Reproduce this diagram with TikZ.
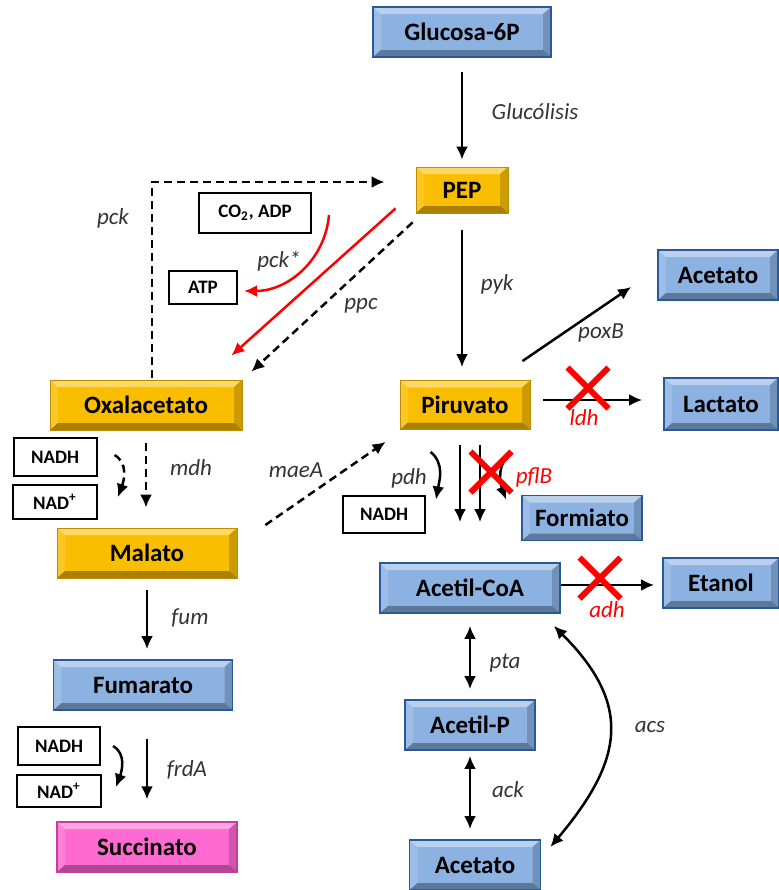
\documentclass[tikz,border=0pt]{standalone}
\usepackage{fontspec}
\setmainfont{Carlito}
\usetikzlibrary{arrows.meta,shapes.misc}
\definecolor{boxblue}{RGB}{140,178,226}
\definecolor{edgeblue}{RGB}{40,90,155}
\definecolor{boxgold}{RGB}{250,190,0}
\definecolor{edgegold}{RGB}{190,140,0}
\definecolor{boxpink}{RGB}{255,105,210}
\definecolor{edgepink}{RGB}{200,60,160}
\definecolor{knock}{RGB}{255,0,0}

\begin{document}
\begin{tikzpicture}[
		x=0.5pt, y=-0.5pt,
		bevel/.style={path picture={
				\coordinate (nw) at (path picture bounding box.north west);
				\coordinate (ne) at (path picture bounding box.north east);
				\coordinate (sw) at (path picture bounding box.south west);
				\coordinate (se) at (path picture bounding box.south east);
				\fill[white,opacity=.4] (nw) -- (ne) -- ([shift={(-4pt,-3.5pt)}]ne) -- ([shift={(4pt,-3.5pt)}]nw) -- cycle;
				\fill[white,opacity=.15] (nw) -- ([shift={(4pt,-3.5pt)}]nw) -- ([shift={(4pt,3.5pt)}]sw) -- (sw) -- cycle;
				\fill[black,opacity=.18] (ne) -- (se) -- ([shift={(-4pt,3.5pt)}]se) -- ([shift={(-4pt,-3.5pt)}]ne) -- cycle;
				\fill[black,opacity=.32] (sw) -- ([shift={(4pt,3.5pt)}]sw) -- ([shift={(-4pt,3.5pt)}]se) -- (se) -- cycle;
			}},
		metab/.style={bevel, inner sep=0pt, minimum height=25pt, font=\fontsize{12.5}{14}\selectfont\bfseries},
		bluebox/.style={metab, fill=boxblue, draw=edgeblue, line width=0.9pt},
		goldbox/.style={metab, fill=boxgold, draw=edgegold, line width=0.4pt},
		pinkbox/.style={metab, fill=boxpink, draw=edgepink, line width=0.6pt},
		cofac/.style={draw, line width=1pt, inner sep=0pt, font=\fontsize{9.5}{11}\selectfont\bfseries},
		enz/.style={font=\fontsize{11.5}{13}\selectfont\itshape, text=black!80},
		enzko/.style={enz, text=knock},
		arr/.style={-{Latex[length=6.5pt,width=6pt]}, line width=1.25pt},
		biarr/.style={{Latex[length=6.5pt,width=6pt]}-{Latex[length=6.5pt,width=6pt]}, line width=1.25pt},
		darr/.style={arr, dash pattern=on 4pt off 2.5pt},
		redarr/.style={arr, draw=knock},
		ko/.style={cross out, draw=knock, line width=3pt, minimum size=17.5pt, inner sep=0pt}
		]
		\useasboundingbox (0,0) rectangle (779,890);
		% metabolites
		\node[bluebox, minimum width=89pt] (glu) at (462,32) {Glucosa-6P};
		\node[goldbox, minimum width=46pt, minimum height=23pt] (pep) at (462,190) {PEP};
		\node[bluebox, minimum width=60pt] (acet1) at (718,275) {Acetato};
		\node[goldbox, minimum width=96pt] (oxa) at (146,405) {Oxalacetato};
		\node[goldbox, minimum width=65pt, minimum height=24.5pt] (pir) at (465,405) {Piruvato};
		\node[bluebox, minimum width=57pt, minimum height=26pt] (lac) at (721,404) {Lactato};
		\node[goldbox, minimum width=90pt] (mal) at (147,553) {Malato};
		\node[bluebox, minimum width=60pt, minimum height=22.5pt] (form) at (582,518) {Formiato};
		\node[bluebox, minimum width=90pt] (acoa) at (470,588) {Acetil-CoA};
		\node[bluebox, minimum width=58pt] (etoh) at (721,583) {Etanol};
		\node[bluebox, minimum width=89.5pt] (fum) at (143,685) {Fumarato};
		\node[bluebox, minimum width=65pt] (acp) at (470,725) {Acetil-P};
		\node[pinkbox, minimum width=90pt] (suc) at (147,847) {Succinato};
		\node[bluebox, minimum width=65.5pt] (acet2) at (475,865) {Acetato};
		% cofactors
		\node[cofac, minimum width=56pt, minimum height=20pt] (co2) at (255,213) {CO\textsubscript{2}, ADP};
		\node[cofac, minimum width=34pt, minimum height=16.5pt] (atp) at (203,287) {ATP};
		\node[cofac, minimum width=41.5pt, minimum height=19pt] (nadh1) at (55,457) {NADH};
		\node[cofac, minimum width=42pt, minimum height=17pt] (nad1) at (55,502) {NAD\textsuperscript{+}};
		\node[cofac, minimum width=41pt, minimum height=18.5pt] (nadh2) at (384,514) {NADH};
		\node[cofac, minimum width=41pt, minimum height=19pt] (nadh3) at (59,746) {NADH};
		\node[cofac, minimum width=42pt, minimum height=16pt] (nad3) at (59,791) {NAD\textsuperscript{+}};
		% enzymes
		\node[enz] (lglu) at (535,112) {Glucólisis};
		\node[enz] (lpck) at (113,218) {pck};
		\node[enz] (lpcks) at (279,261) {pck*};
		\node[enz] (lppc) at (361,306) {ppc};
		\node[enz] (lpyk) at (497,284) {pyk};
		\node[enz] (lpox) at (601,333) {poxB};
		\node[enzko] (lldh) at (584,418) {ldh};
		\node[enz] (lmdh) at (191,468) {mdh};
		\node[enz] (lmae) at (296,470) {maeA};
		\node[enz] (lpdh) at (409,478) {pdh};
		\node[enzko] (lpfl) at (534,477) {pflB};
		\node[enzko] (ladh) at (607,610) {adh};
		\node[enz] (lfum) at (190,618) {fum};
		\node[enz] (lpta) at (505,663) {pta};
		\node[enz] (lacs) at (650,727) {acs};
		\node[enz] (lack) at (508,790) {ack};
		\node[enz] (lfrd) at (187,770) {frdA};
		% reactions
		\draw[arr] ([yshift=-7pt]glu.south) -- ([yshift=3.5pt]pep.north);
		\draw[darr] ([xshift=3pt,yshift=1pt]oxa.north) |- ([xshift=-15.5pt,yshift=4pt]pep.west);
		\draw[darr] ([xshift=-1.5pt,yshift=-4.5pt]pep.south west) -- ([xshift=4.5pt,yshift=4pt]oxa.north east);
		\draw[redarr] ([xshift=-10pt,yshift=2.5pt]pep.south west) -- ([xshift=-5.5pt,yshift=12pt]oxa.north east);
		\draw[redarr] ([xshift=8.5pt,yshift=-1pt]co2.east) to[out=-95,in=0] ([xshift=3pt,yshift=-2pt]atp.east);
		\draw[arr] ([yshift=-8.5pt]pep.south) -- ([xshift=-1.5pt,yshift=6.5pt]pir.north);
		\draw[arr] ([xshift=-4pt,yshift=9.5pt]pir.north east) -- ([xshift=-13pt,yshift=-6pt]acet1.west);
		\draw[arr] ([xshift=6.5pt,yshift=2.5pt]pir.east) -- ([xshift=-10.5pt,yshift=2pt]lac.west);
		\node[ko] (xldh) at (588,388) {};
		\draw[darr] ([yshift=-6.5pt]oxa.south) -- ([yshift=10pt]oxa.south |- mal.north);
		\draw[darr] ([xshift=8.5pt,yshift=1pt]nadh1.east) to[out=-30,in=70] ([xshift=10pt,yshift=2.5pt]nad1.east);
		\draw[darr] ([xshift=14pt,yshift=14pt]mal.east) -- ([xshift=-7pt,yshift=-6pt]pir.south west);
		\draw[arr] ([xshift=15.5pt,yshift=-11pt]pir.south west) to[out=-40,in=80] ([xshift=5pt,yshift=-2.5pt]nadh2.north east);
		\draw[arr] ([xshift=-2.5pt,yshift=-7.5pt]pir.south) -- ([xshift=-5pt,yshift=20pt]acoa.north);
		\draw[arr] ([xshift=7.5pt,yshift=-7.5pt]pir.south) -- ([xshift=5pt,yshift=20pt]acoa.north);
		\draw[arr] ([xshift=-9pt,yshift=-11.5pt]pir.south east) to[out=210,in=110] ([xshift=-7.5pt,yshift=-2.5pt]form.north west);
		\node[ko] (xpfl) at (491,472) {};
		\draw[arr] ([yshift=1.5pt]acoa.east) -- ([xshift=-4pt,yshift=1.5pt]acoa.east -| etoh.west);
		\node[ko] (xadh) at (600,578) {};
		\draw[biarr] ([yshift=-6pt]acoa.south) -- ([yshift=5pt]acp.north);
		\draw[biarr] ([yshift=-2.5pt]acp.south) -- ([yshift=5pt]acp.south |- acet2.north);
		\draw[biarr] ([xshift=-3.5pt,yshift=-6pt]acoa.south east) to[out=-45,in=50,looseness=1.3] ([xshift=4.5pt,yshift=9pt]acet2.east);
		\draw[arr] ([yshift=-6pt]mal.south) -- ([yshift=5pt]mal.south |- fum.north);
		\draw[arr] ([xshift=2pt,yshift=-14pt]fum.south) -- ([yshift=11pt]suc.north);
		\draw[arr] ([xshift=6pt]nadh3.east) to[out=-30,in=70] ([xshift=7pt,yshift=2pt]nad3.east);
	\end{tikzpicture}
\end{document}
